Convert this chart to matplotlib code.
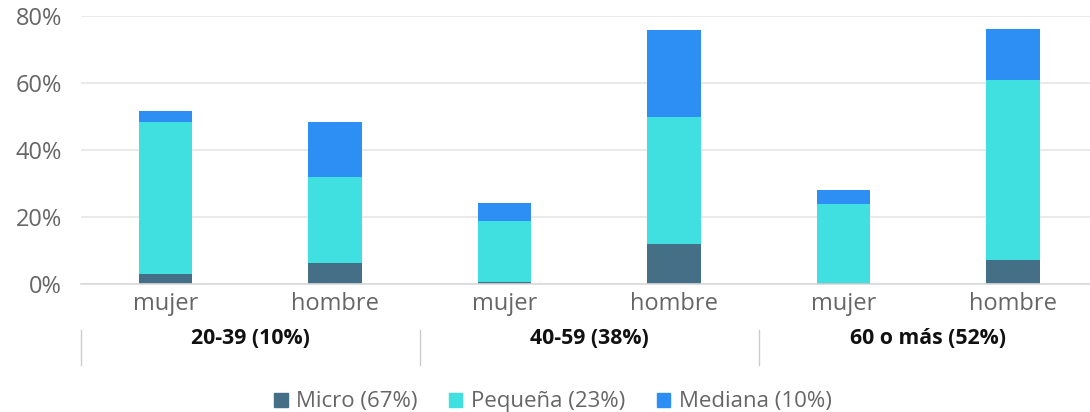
import matplotlib
matplotlib.use("Agg")
from matplotlib import pyplot as plt
from matplotlib.patches import Patch

plt.rcParams['font.family'] = ['Open Sans', 'DejaVu Sans']

# datos (en %)
sexo = ['mujer', 'hombre', 'mujer', 'hombre', 'mujer', 'hombre']
grupos = ['20-39 (10%)', '40-59 (38%)', '60 o más (52%)']
micro = [3.0, 6.2, 0.6, 11.9, 0.3, 7.2]
pequena = [45.4, 25.6, 18.1, 38.0, 23.6, 53.6]
mediana = [3.3, 16.6, 5.4, 25.9, 4.2, 15.4]
series = ['Micro (67%)', 'Pequeña (23%)', 'Mediana (10%)']
colores = ['#446F86', '#40DFE0', '#2D8FF4']

def main():
  fig = plt.figure(figsize=(10.9, 4.12), dpi=100)
  ax = fig.add_axes([81 / 1090, 1 - 284 / 412, 1 - 81 / 1090, 268 / 412])

  x = list(range(len(sexo)))
  w = 0.316
  base2 = [a + b for a, b in zip(micro, pequena)]
  ax.bar(x, micro, w, color=colores[0], zorder=3)
  ax.bar(x, pequena, w, bottom=micro, color=colores[1], zorder=3)
  ax.bar(x, mediana, w, bottom=base2, color=colores[2], zorder=3)

  ax.set_xlim(-0.5, 5.455)
  ax.set_ylim(0, 80)
  ax.set_yticks([0, 20, 40, 60, 80])
  ax.set_yticklabels(['0%', '20%', '40%', '60%', '80%'])
  ax.set_xticks(x)
  ax.set_xticklabels(sexo)
  ax.tick_params(axis='y', length=0, pad=13.5, labelsize=17, labelcolor='#666666')
  ax.tick_params(axis='x', length=0, pad=6, labelsize=17, labelcolor='#666666')
  ax.yaxis.grid(True, color='#e6e6e6', linewidth=1.2, zorder=0)
  ax.set_axisbelow(True)
  for s in ['top', 'right', 'left']:
    ax.spines[s].set_visible(False)
  ax.spines['bottom'].set_color('#d9d9d9')
  ax.spines['bottom'].set_linewidth(1.2)
  ax.spines['bottom'].set_zorder(4)

  # etiquetas de grupo y separadores
  trans = ax.get_xaxis_transform()
  for i, g in enumerate(grupos):
    cx = 2 * i + 0.5
    ax.text(cx, -54 / 268, g, transform=trans, ha='center', va='center',
            fontsize=15.3, fontweight='bold', color='#111111')
    ax.plot([2 * i - 0.5, 2 * i - 0.5], [-46 / 268, -81 / 268], transform=trans,
            color='#cccccc', linewidth=1, clip_on=False)

  handles = [Patch(color=c) for c in colores]
  fig.legend(handles, series, loc='center', bbox_to_anchor=(553 / 1090, 1 - 402 / 412),
             ncol=3, frameon=False, fontsize=16, labelcolor='#666666',
             handlelength=0.6, handleheight=0.6, handletextpad=0.4, columnspacing=1.4)

  fig.savefig('out.png', dpi=100)

if __name__ == '__main__':
  main()
